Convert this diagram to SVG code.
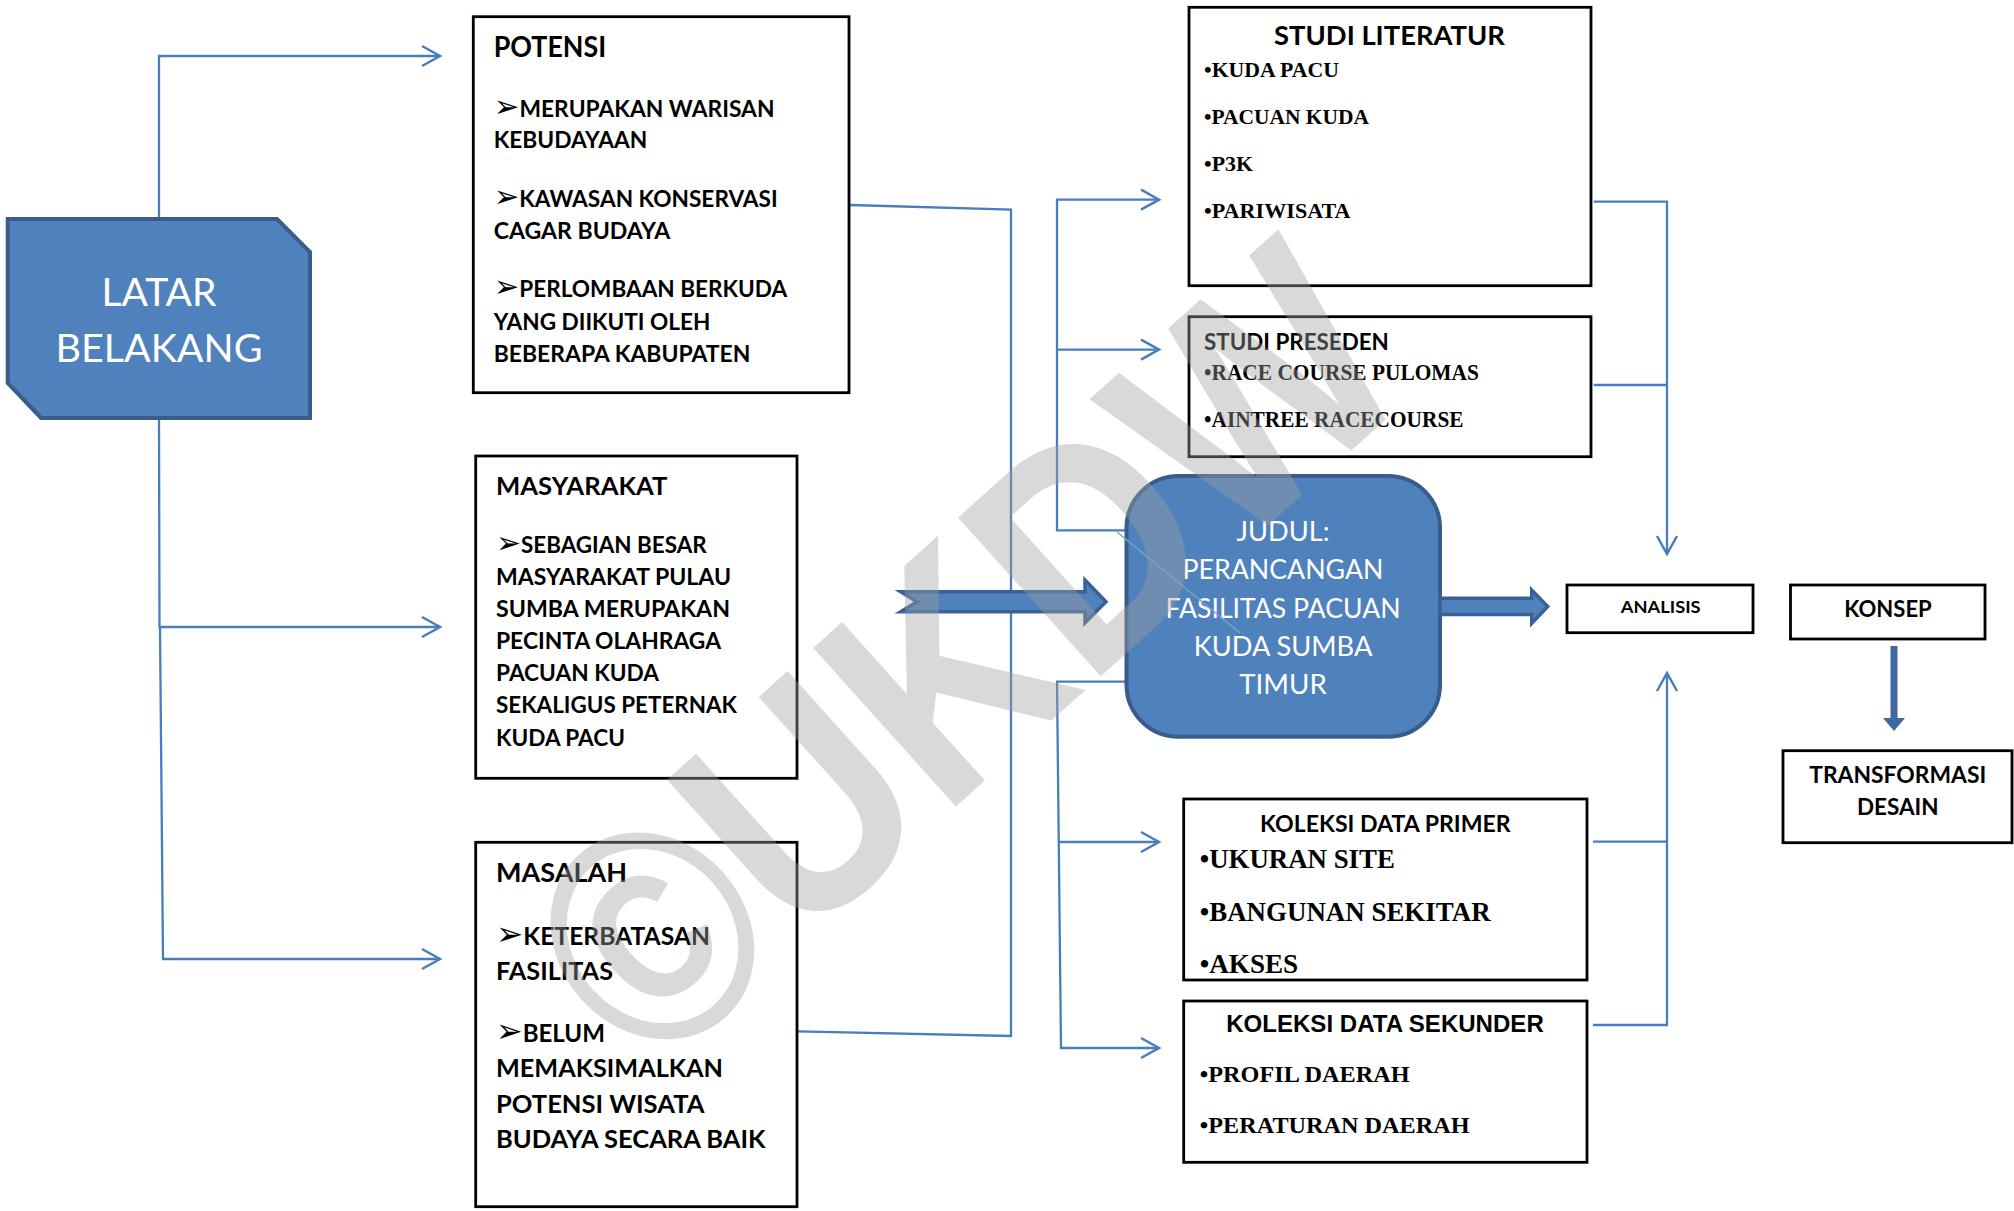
<svg xmlns="http://www.w3.org/2000/svg" width="2014" height="1211" viewBox="0 0 2014 1211">
<style>
.box{fill:#fff;stroke:#000;stroke-width:2.8}
.blue{fill:#4F81BD;stroke:#385D8A;stroke-width:4}
.con{fill:none;stroke:#4A7EBB;stroke-width:2.3}
.thick{fill:#4F81BD;stroke:#3A6196;stroke-width:3.5;stroke-linejoin:miter}
.c{font-family:Lato,"Open Sans",sans-serif;font-weight:700;fill:#000}
.cw{font-family:Lato,"Open Sans",sans-serif;font-weight:400;fill:#fff}
.t{font-family:"Liberation Serif","Times New Roman",serif;font-weight:700;fill:#000}
.a{font-family:"Liberation Sans",Arial,sans-serif;font-weight:700;fill:#000}
.ar{font-family:"DejaVu Sans",sans-serif;font-weight:400}
.mid{text-anchor:middle}
</style>
<defs>
<marker id="open" viewBox="-20 -12 24 24" markerWidth="24" markerHeight="24" refX="0" refY="0" orient="auto" markerUnits="userSpaceOnUse">
<path d="M-18,-10 L0,0 L-18,10" fill="none" stroke="#4A7EBB" stroke-width="2.5"/>
</marker>
</defs>
<rect width="2014" height="1211" fill="#fff"/>

<g id="connectors">
<path class="con" d="M159,219 V56 H440" marker-end="url(#open)"/>
<path class="con" d="M159,418 L159.5,627 H440" marker-end="url(#open)"/>
<path class="con" d="M160,627 L163,959 H440" marker-end="url(#open)"/>
<path class="con" d="M850,205 L1011,209.6 V1036 L798,1031.4"/>
<path class="con" d="M1126,530.4 H1057 V199.7 H1159" marker-end="url(#open)"/>
<path class="con" d="M1057,349.6 H1159" marker-end="url(#open)"/>
<path class="con" d="M1126,681.6 H1057 L1061,1048 H1159" marker-end="url(#open)"/>
<path class="con" d="M1058,842 H1159" marker-end="url(#open)"/>
<path class="con" d="M1593.7,201.7 H1667 V554" marker-end="url(#open)"/>
<path class="con" d="M1593.7,385 H1667"/>
<path class="con" d="M1593,1025 H1667 V673" marker-end="url(#open)"/>
<path class="con" d="M1593,841.7 H1667"/>
<path d="M900.7,591.7 H1085 V580 L1106,601.7 L1085,622.7 V611.7 H900.7 L917,601.7 Z" class="thick"/>
<path d="M1894,646 V720" stroke="#3F68A0" stroke-width="7" fill="none"/>
<path d="M1883,718 H1905 L1894,731 Z" fill="#3F68A0"/>
</g>

<g id="latar">
<path class="blue" d="M7.7,219 H277 L310,252 V418 H41 L7.7,383 Z"/>
<text class="cw mid" x="159" y="305.5" font-size="39" textLength="115" lengthAdjust="spacingAndGlyphs">LATAR</text>
<text class="cw mid" x="159" y="362" font-size="39" textLength="207" lengthAdjust="spacingAndGlyphs">BELAKANG</text>
</g>

<g id="potensi">
<rect class="box" x="473.3" y="16.7" width="375.7" height="376"/>
<text class="c" x="493.7" y="57.3" font-size="28" textLength="112.5" lengthAdjust="spacingAndGlyphs">POTENSI</text>
<text class="c" x="493.7" y="116.7" font-size="23" textLength="280.8" lengthAdjust="spacingAndGlyphs"><tspan class="ar" font-size="31">➢</tspan>MERUPAKAN WARISAN</text>
<text class="c" x="493.7" y="148.3" font-size="23" textLength="153.6" lengthAdjust="spacingAndGlyphs">KEBUDAYAAN</text>
<text class="c" x="493.7" y="206.7" font-size="23" textLength="284" lengthAdjust="spacingAndGlyphs"><tspan class="ar" font-size="31">➢</tspan>KAWASAN KONSERVASI</text>
<text class="c" x="493.7" y="239" font-size="23" textLength="176.6" lengthAdjust="spacingAndGlyphs">CAGAR BUDAYA</text>
<text class="c" x="493.7" y="296.7" font-size="23" textLength="293.5" lengthAdjust="spacingAndGlyphs"><tspan class="ar" font-size="31">➢</tspan>PERLOMBAAN BERKUDA</text>
<text class="c" x="493.7" y="330" font-size="23" textLength="216.7" lengthAdjust="spacingAndGlyphs">YANG DIIKUTI OLEH</text>
<text class="c" x="493.7" y="362" font-size="23" textLength="256.7" lengthAdjust="spacingAndGlyphs">BEBERAPA KABUPATEN</text>
</g>

<g id="masyarakat">
<rect class="box" x="475.7" y="456" width="321.3" height="322.3"/>
<text class="c" x="496" y="495" font-size="25.5" textLength="171.4" lengthAdjust="spacingAndGlyphs">MASYARAKAT</text>
<text class="c" x="496" y="553" font-size="22.5" textLength="210.7" lengthAdjust="spacingAndGlyphs"><tspan class="ar" font-size="30">➢</tspan>SEBAGIAN BESAR</text>
<text class="c" x="496" y="585" font-size="22.5" textLength="235" lengthAdjust="spacingAndGlyphs">MASYARAKAT PULAU</text>
<text class="c" x="496" y="617" font-size="22.5" textLength="234" lengthAdjust="spacingAndGlyphs">SUMBA MERUPAKAN</text>
<text class="c" x="496" y="649" font-size="22.5" textLength="225" lengthAdjust="spacingAndGlyphs">PECINTA OLAHRAGA</text>
<text class="c" x="496" y="681" font-size="22.5" textLength="163" lengthAdjust="spacingAndGlyphs">PACUAN KUDA</text>
<text class="c" x="496" y="713" font-size="22.5" textLength="241" lengthAdjust="spacingAndGlyphs">SEKALIGUS PETERNAK</text>
<text class="c" x="496" y="745.5" font-size="22.5" textLength="129" lengthAdjust="spacingAndGlyphs">KUDA PACU</text>
</g>

<g id="masalah">
<rect class="box" x="475.7" y="842.3" width="321.3" height="364.4"/>
<text class="c" x="496" y="882" font-size="26.5" textLength="131" lengthAdjust="spacingAndGlyphs">MASALAH</text>
<text class="c" x="496" y="945" font-size="25" textLength="214" lengthAdjust="spacingAndGlyphs"><tspan class="ar" font-size="33">➢</tspan>KETERBATASAN</text>
<text class="c" x="496" y="980" font-size="25" textLength="117" lengthAdjust="spacingAndGlyphs">FASILITAS</text>
<text class="c" x="496" y="1042" font-size="25" textLength="109" lengthAdjust="spacingAndGlyphs"><tspan class="ar" font-size="33">➢</tspan>BELUM</text>
<text class="c" x="496" y="1077" font-size="25" textLength="227" lengthAdjust="spacingAndGlyphs">MEMAKSIMALKAN</text>
<text class="c" x="496" y="1113" font-size="25" textLength="208.5" lengthAdjust="spacingAndGlyphs">POTENSI WISATA</text>
<text class="c" x="496" y="1148" font-size="25" textLength="269.6" lengthAdjust="spacingAndGlyphs">BUDAYA SECARA BAIK</text>
</g>

<g id="studi-literatur">
<rect class="box" x="1189" y="7.3" width="402" height="278.4"/>
<text class="c mid" x="1389.5" y="45" font-size="26.5" textLength="230.8" lengthAdjust="spacingAndGlyphs">STUDI LITERATUR</text>
<text class="t" x="1204" y="77.3" font-size="21" textLength="135" lengthAdjust="spacingAndGlyphs">•KUDA PACU</text>
<text class="t" x="1204" y="124" font-size="21" textLength="165" lengthAdjust="spacingAndGlyphs">•PACUAN KUDA</text>
<text class="t" x="1204" y="171" font-size="21" textLength="49" lengthAdjust="spacingAndGlyphs">•P3K</text>
<text class="t" x="1204" y="218.3" font-size="21" textLength="146.6" lengthAdjust="spacingAndGlyphs">•PARIWISATA</text>
</g>

<g id="studi-preseden">
<rect class="box" x="1189" y="316.7" width="402" height="140"/>
<text class="c" x="1204" y="350" font-size="23.3" textLength="184.8" lengthAdjust="spacingAndGlyphs">STUDI PRESEDEN</text>
<text class="t" x="1204" y="380" font-size="22.5" textLength="274.8" lengthAdjust="spacingAndGlyphs">•RACE COURSE PULOMAS</text>
<text class="t" x="1204" y="426.7" font-size="22.5" textLength="259.5" lengthAdjust="spacingAndGlyphs">•AINTREE RACECOURSE</text>
</g>

<g id="judul">
<rect class="blue" x="1126.5" y="476" width="313.5" height="260.7" rx="52" ry="52"/>
<text class="cw mid" x="1283" y="541" font-size="26" textLength="93" lengthAdjust="spacingAndGlyphs">JUDUL:</text>
<text class="cw mid" x="1283" y="579" font-size="26" textLength="201" lengthAdjust="spacingAndGlyphs">PERANCANGAN</text>
<text class="cw mid" x="1283" y="618" font-size="26" textLength="235" lengthAdjust="spacingAndGlyphs">FASILITAS PACUAN</text>
<text class="cw mid" x="1283" y="656" font-size="26" textLength="178.7" lengthAdjust="spacingAndGlyphs">KUDA SUMBA</text>
<text class="cw mid" x="1283" y="694" font-size="26" textLength="87.5" lengthAdjust="spacingAndGlyphs">TIMUR</text>
<path d="M1117,532 L1240,633" stroke="#7BA0D0" stroke-width="1.5" fill="none"/>
</g>

<g id="arrow-judul-analisis">
<path d="M1440,598.3 H1531.7 V590 L1547.7,606.5 L1531.7,623.3 V614.5 H1440 Z" class="thick"/>
</g>

<g id="analisis">
<rect class="box" x="1567" y="585" width="186" height="47.7"/>
<text class="c mid" x="1660.7" y="612.7" font-size="17.7" textLength="79.8" lengthAdjust="spacingAndGlyphs">ANALISIS</text>
</g>

<g id="konsep">
<rect class="box" x="1790.5" y="585" width="194.5" height="54"/>
<text class="c mid" x="1888" y="617.3" font-size="22" textLength="87.5" lengthAdjust="spacingAndGlyphs">KONSEP</text>
</g>

<g id="transformasi">
<rect class="box" x="1783" y="750.7" width="229" height="92"/>
<text class="c mid" x="1897.7" y="782.7" font-size="22.3" textLength="177" lengthAdjust="spacingAndGlyphs">TRANSFORMASI</text>
<text class="c mid" x="1897.7" y="815" font-size="22.3" textLength="81.6" lengthAdjust="spacingAndGlyphs">DESAIN</text>
</g>

<g id="koleksi-primer">
<rect class="box" x="1183.7" y="799" width="403.3" height="181"/>
<text class="c mid" x="1385.4" y="831.7" font-size="23.3" textLength="250.7" lengthAdjust="spacingAndGlyphs">KOLEKSI DATA PRIMER</text>
<text class="t" x="1199.8" y="868.3" font-size="27.5" textLength="195" lengthAdjust="spacingAndGlyphs">•UKURAN SITE</text>
<text class="t" x="1199.8" y="921" font-size="27.5" textLength="290.8" lengthAdjust="spacingAndGlyphs">•BANGUNAN SEKITAR</text>
<text class="t" x="1199.8" y="973.3" font-size="27.5" textLength="98.4" lengthAdjust="spacingAndGlyphs">•AKSES</text>
</g>

<g id="koleksi-sekunder">
<rect class="box" x="1183.7" y="1001" width="403.3" height="161.3"/>
<text class="a mid" x="1385" y="1031.7" font-size="23.3" textLength="317.6" lengthAdjust="spacingAndGlyphs">KOLEKSI DATA SEKUNDER</text>
<text class="t" x="1199.8" y="1081.7" font-size="22.7" textLength="209.7" lengthAdjust="spacingAndGlyphs">•PROFIL DAERAH</text>
<text class="t" x="1199.8" y="1132.7" font-size="22.7" textLength="269.8" lengthAdjust="spacingAndGlyphs">•PERATURAN DAERAH</text>
</g>

<g id="watermark">
<text x="650" y="1082" transform="rotate(-42 650 1082)" font-family="Liberation Sans,Arial,sans-serif" font-weight="700" font-size="310" textLength="1038" lengthAdjust="spacingAndGlyphs" fill="#A0A0A0" fill-opacity="0.4">©UKDW</text>
</g>
</svg>
